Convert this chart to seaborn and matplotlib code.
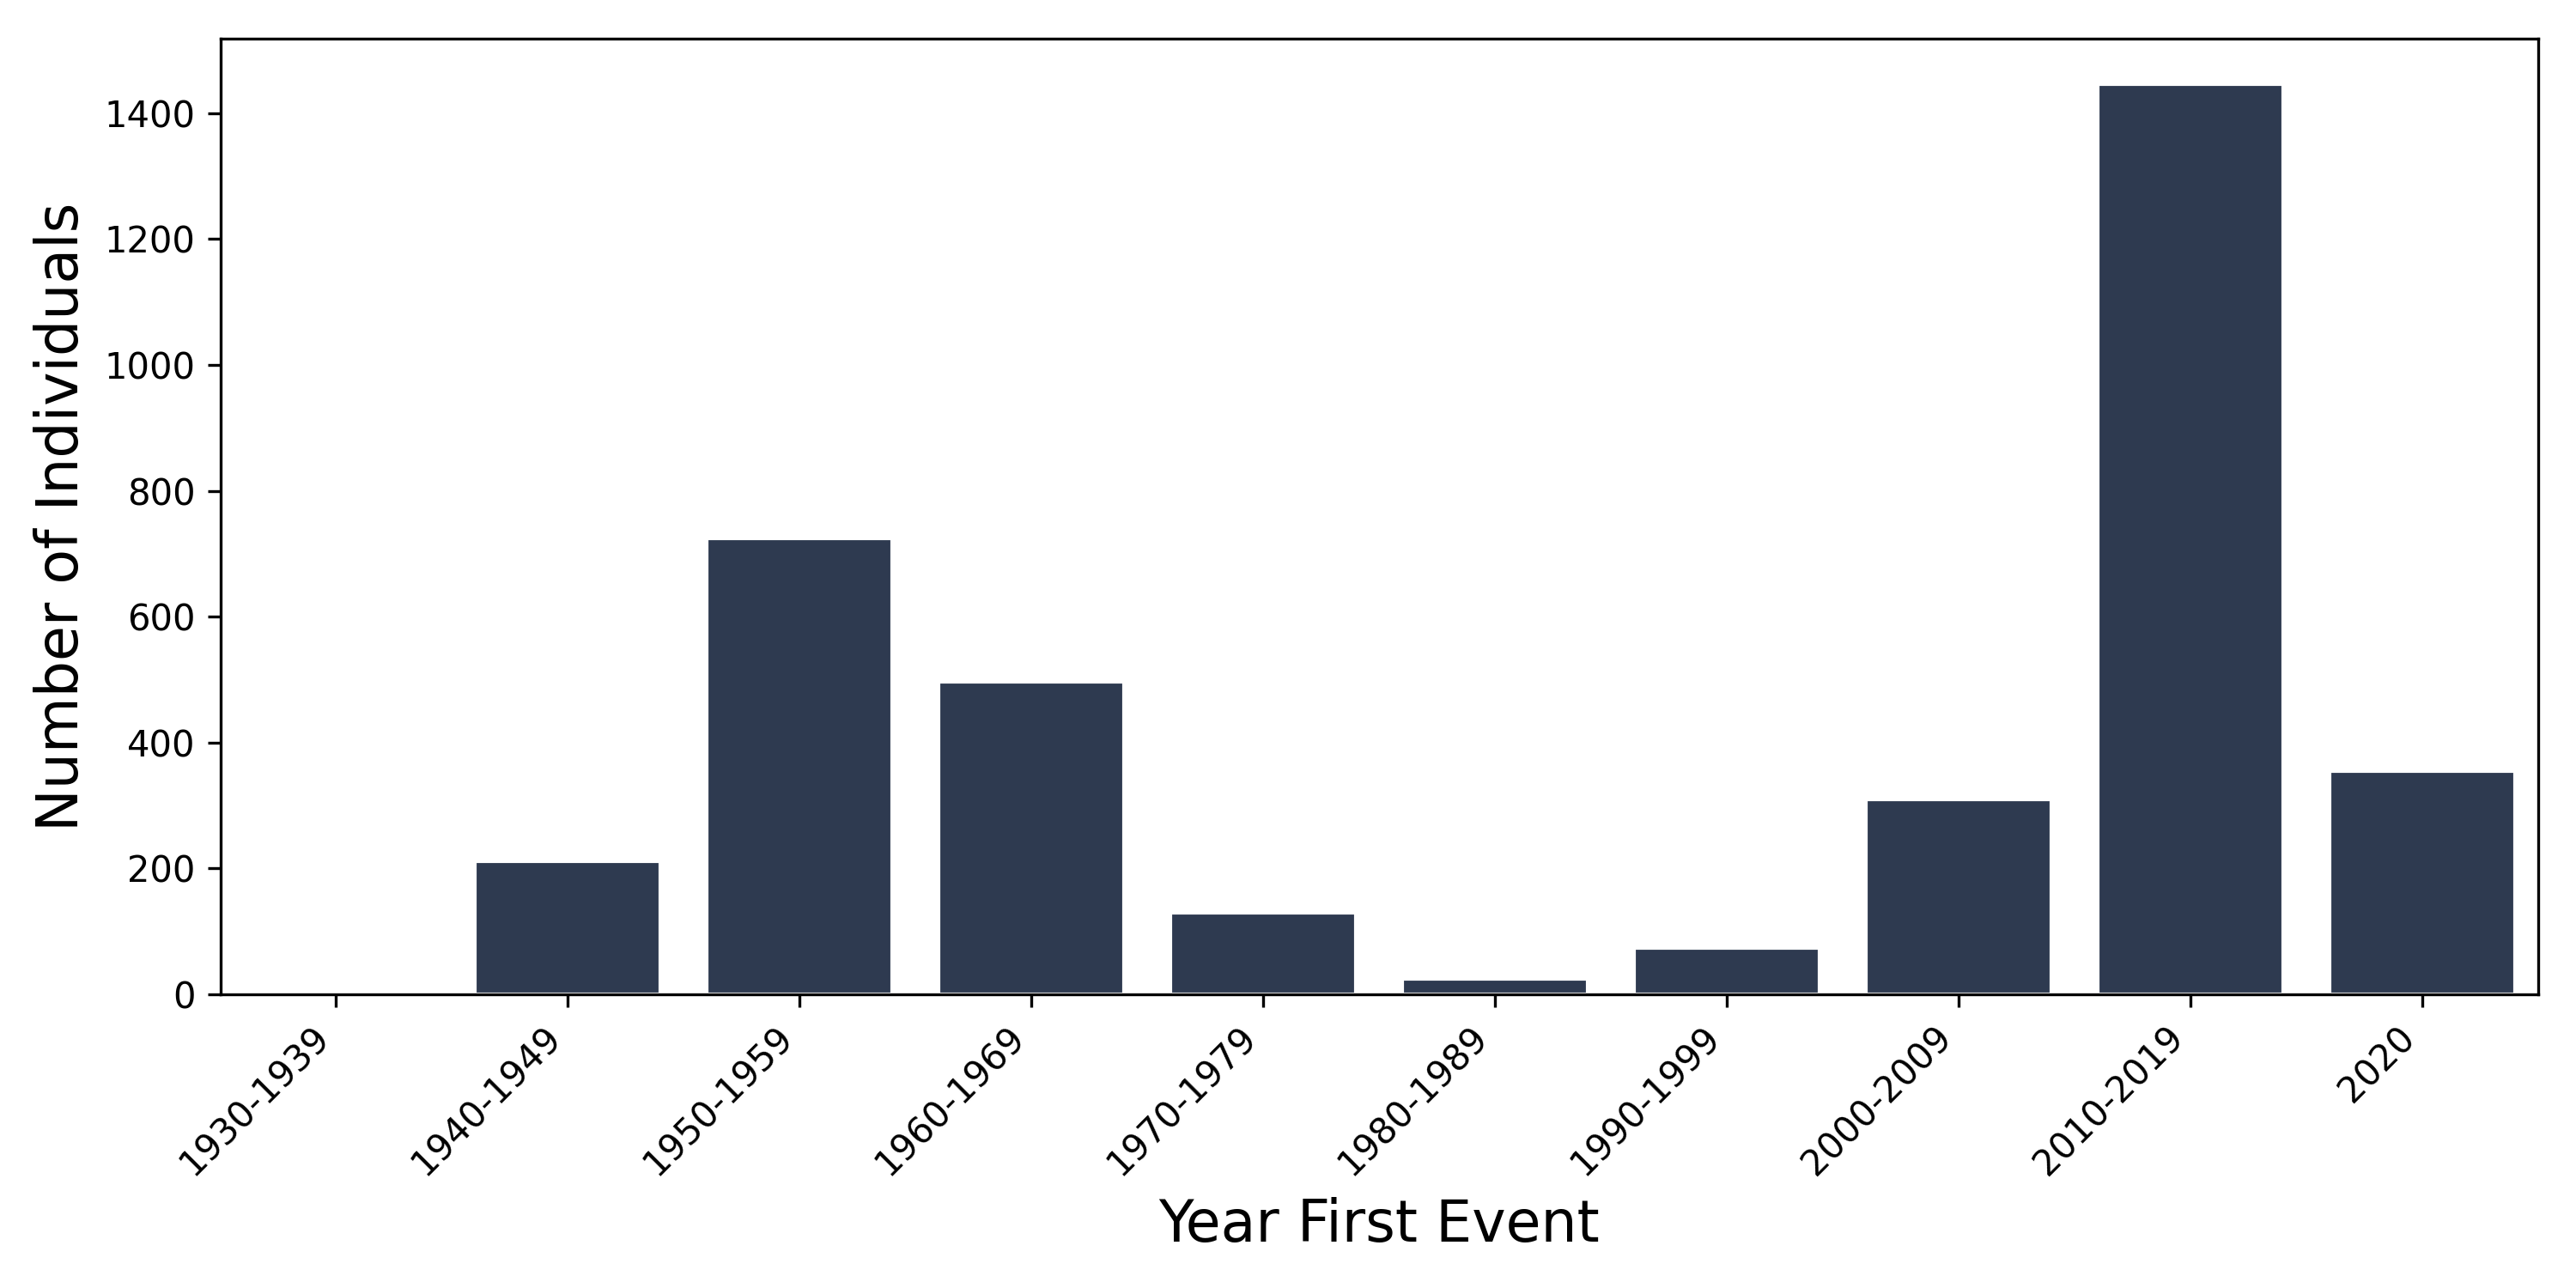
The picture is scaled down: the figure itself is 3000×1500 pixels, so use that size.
import pandas as pd
import numpy as np
import matplotlib
matplotlib.use('Agg')
import matplotlib.pyplot as plt
import seaborn as sns

# data
decades = ['1930-1939', '1940-1949', '1950-1959', '1960-1969', '1970-1979',
           '1980-1989', '1990-1999', '2000-2009', '2010-2019', '2020']
counts = [0, 211, 725, 496, 130, 25, 74, 310, 1446, 355]

# setup
sns.set_style('ticks')
plt.rcParams['font.family'] = ['DejaVu Sans']
plt.rcParams['text.color'] = 'black'
plt.rcParams['axes.labelcolor'] = 'black'
plt.rcParams['xtick.color'] = 'black'
plt.rcParams['ytick.color'] = 'black'
plt.rcParams['axes.edgecolor'] = 'black'
bar_color = '#2e3a50'

df = pd.DataFrame({'decade': decades, 'count': counts})

fig, ax = plt.subplots(figsize=(10, 5), dpi=300)
fig.subplots_adjust(left=0.0855, right=0.9853, top=0.970, bottom=0.228)

sns.barplot(data=df, x='decade', y='count', color=bar_color, saturation=1,
            width=0.8, ax=ax)

ax.set_xlabel('Year First Event', fontsize=16)
ax.set_ylabel('Number of Individuals', fontsize=16)
ax.set_yticks(np.arange(0, 1401, 200))
plt.setp(ax.get_xticklabels(), rotation=45, ha='right')
ax.tick_params(axis='both', labelsize=10)
for s in ax.spines.values():
    s.set_visible(True)

fig.savefig('out.png', dpi=300)
